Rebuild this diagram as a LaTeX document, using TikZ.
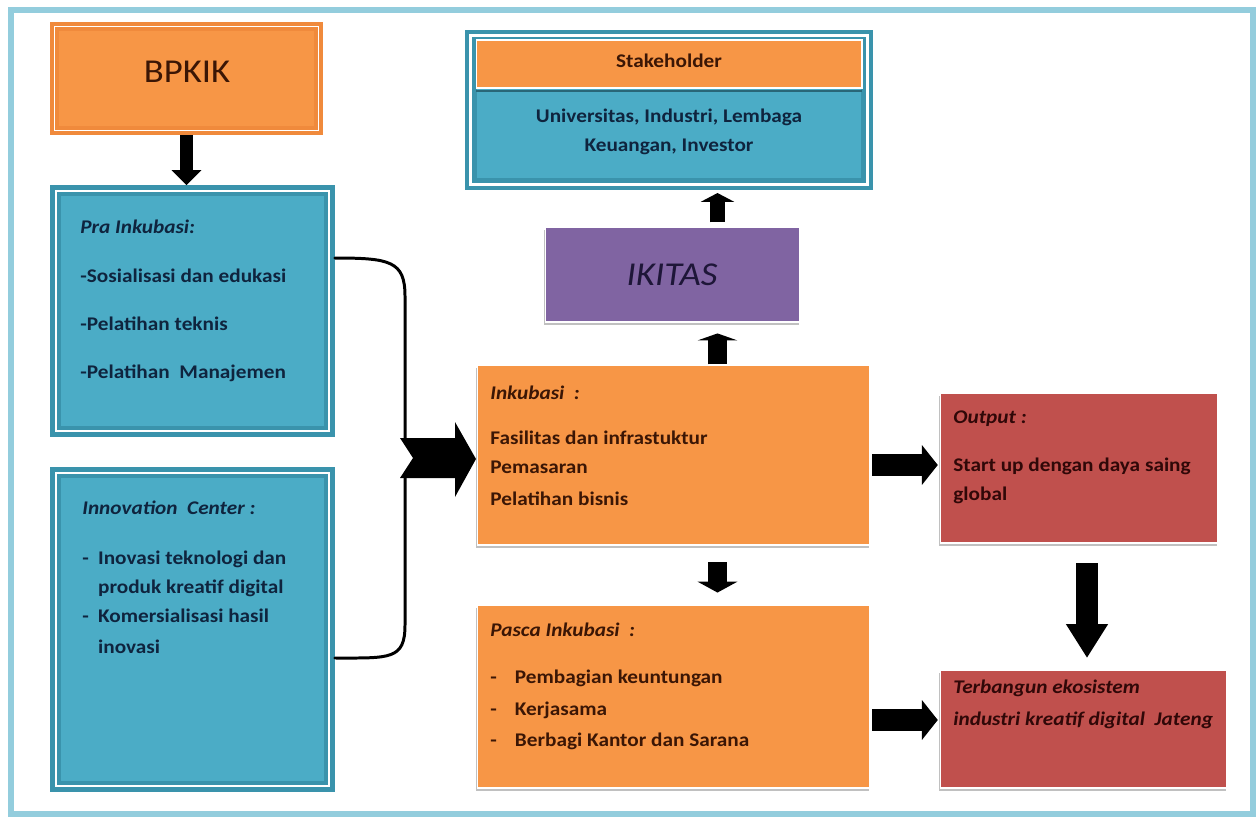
\documentclass[tikz,border=0pt]{standalone}
\usepackage{fontspec}
\setmainfont{Carlito}[FakeStretch=1.1]
\usetikzlibrary{arrows.meta,shadows}

\definecolor{frameblue}{HTML}{93CDDD}
\definecolor{boxorange}{HTML}{F79646}
\definecolor{edgeorange}{HTML}{F08A3C}
\definecolor{boxblue}{HTML}{4BACC6}
\definecolor{edgeblue}{HTML}{3A93AC}
\definecolor{boxpurple}{HTML}{8064A2}
\definecolor{boxred}{HTML}{C0504D}
\definecolor{navytext}{HTML}{0F243E}
\definecolor{browntext}{HTML}{3B1605}
\definecolor{redtext}{HTML}{300808}
\definecolor{purpletext}{HTML}{1E1638}

\tikzset{
  bluebox/.style={fill=boxblue, draw=edgeblue, double=white, line width=2.5pt,
    double distance=1.4pt, outer sep=3.2pt, inner sep=0pt},
  flatbox/.style={fill=#1, draw=white, line width=0.6pt, inner sep=0pt,
    drop shadow={shadow xshift=-0.8pt, shadow yshift=-1.6pt, fill=black!55, opacity=0.45}},
  txt/.style={font=\fontsize{11}{16.5}\selectfont\bfseries, align=left,
    inner sep=0pt, anchor=north west},
  blk/.style n args={3}{line width=#1, -{Triangle[width=#2,length=#3,line width=0pt]}},
  bracket/.style={line width=1.7pt, line cap=round}
}

\begin{document}
\begin{tikzpicture}[x=0.02cm, y=-0.02cm]
    \useasboundingbox (0,0) rectangle (1260,818);

    % Outer frame
    \draw[frameblue, line width=3.4pt] (11,10) rectangle (1253,814);

    % Left column
    \node[fill=boxorange, draw=edgeorange, double=white, line width=2pt, double distance=1pt,
          outer sep=2.5pt, inner sep=0pt, minimum width=5.28cm, minimum height=2.08cm]
          (bpkik) at (186.5,78.5) {};
    \node[bluebox, minimum width=5.47cm, minimum height=4.81cm] (pra) at (192.5,311) {};
    \node[bluebox, minimum width=5.47cm, minimum height=6.27cm] (inno) at (192.5,629.5) {};

    % Stakeholder block
    \node[fill=boxblue, draw=edgeblue, double=white, line width=2.5pt, double distance=1.6pt,
          outer sep=3.3pt, inner sep=0pt, minimum width=7.93cm, minimum height=2.97cm]
          (stake) at (669,110) {};
    \node[fill=boxorange, draw=white, line width=0.6pt, inner sep=0pt,
          minimum width=7.72cm, minimum height=0.96cm] (band) at (669,64) {};
    \draw[edgeblue!70!black, line width=0.8pt] (476,91) -- (862,91);

    % Middle and right column
    \node[flatbox=boxpurple, minimum width=5.10cm, minimum height=1.90cm] (ikitas) at (672.5,274.5) {};
    \node[flatbox=boxorange, minimum width=7.86cm, minimum height=3.60cm] (inku) at (673.5,455) {};
    \node[flatbox=boxorange, minimum width=7.86cm, minimum height=3.66cm] (pasca) at (673.5,696.5) {};
    \node[flatbox=boxred, minimum width=5.56cm, minimum height=3.00cm] (out) at (1079,468) {};
    \node[flatbox=boxred, minimum width=5.74cm, minimum height=2.36cm] (terb) at (1083.5,729) {};

    % Texts
    \node[font=\fontsize{19}{21}\selectfont, text=browntext] (bpkiktext) at (187,72) {BPKIK};
    \node[txt, text=navytext] (pratext) at (80,220)
        {\textit{Pra Inkubasi:}\\[11pt]
         -Sosialisasi dan edukasi\\[11pt]
         -Pelatihan teknis\\[11pt]
         -Pelatihan\ \ Manajemen};
    \node[txt, text=navytext] (innotext) at (82,501)
        {\textit{Innovation\ \ Center :}\\[11.5pt]
         \makebox[9pt][l]{-}Inovasi teknologi dan\\
         \hspace*{9pt}produk kreatif digital\\
         \makebox[9pt][l]{-}Komersialisasi hasil\\[1.5pt]
         \hspace*{9pt}inovasi};
    \node[font=\fontsize{11}{16.5}\selectfont\bfseries, text=browntext] (staketext) at (669,61) {Stakeholder};
    \node[font=\fontsize{11}{16.5}\selectfont\bfseries, text=navytext, align=center] (membertext) at (669,132)
        {Universitas, Industri, Lembaga\\ Keuangan, Investor};
    \node[font=\fontsize{19}{21}\selectfont\itshape, text=purpletext] (ikitastext) at (672,275) {IKITAS};
    \node[txt, text=browntext] (inkutext) at (490,386)
        {\textit{Inkubasi\ \ :}\\[9pt]
         Fasilitas dan infrastuktur\\
         Pemasaran\\[1.5pt]
         Pelatihan bisnis};
    \node[txt, text=browntext] (pascatext) at (490,623)
        {\textit{Pasca Inkubasi\ \ :}\\[10pt]
         \makebox[14pt][l]{-}Pembagian keuntungan\\[1.5pt]
         \makebox[14pt][l]{-}Kerjasama\\[1.5pt]
         \makebox[14pt][l]{-}Berbagi Kantor dan Sarana};
    \node[txt, text=redtext] (outtext) at (953,410)
        {\textit{Output :}\\[11pt]
         Start up dengan daya saing\\
         global};
    \node[txt, text=redtext, font=\fontsize{11}{18}\selectfont\bfseries\itshape] (terbtext) at (953,680)
        {Terbangun ekosistem\\
         industri kreatif digital\ \ Jateng};

    % Block arrows
    \draw[blk={7.4pt}{17pt}{8.5pt}] (bpkik.south) -- (bpkik.south |- pra.north);
    \draw[blk={9pt}{19pt}{5pt}, shorten <=2.3pt, shorten >=1.7pt]
        ([xshift=0.9cm]ikitas.north) -- ([xshift=0.9cm]ikitas.north |- stake.south);
    \draw[blk={11.3pt}{22.7pt}{4pt}, shorten >=6.2pt]
        ([xshift=0.88cm]inku.north) -- ([xshift=0.88cm]inku.north |- ikitas.south);
    \draw[blk={11.3pt}{22.7pt}{6.2pt}, shorten <=9.6pt, shorten >=6.8pt]
        ([xshift=0.88cm]inku.south) -- ([xshift=0.88cm]inku.south |- pasca.north);
    \draw[blk={12.5pt}{22.7pt}{9pt}, shorten <=1pt, shorten >=1pt]
        ([yshift=-0.2cm]inku.east) -- ([yshift=-0.2cm]inku.east -| out.west);
    \draw[blk={12.5pt}{22.7pt}{9pt}, shorten <=1pt, shorten >=1pt]
        ([yshift=-0.47cm]pasca.east) -- ([yshift=-0.47cm]pasca.east -| terb.west);
    \draw[blk={13pt}{24pt}{19pt}, shorten <=11.3pt, shorten >=6.8pt]
        ([xshift=0.16cm]out.south) -- ([xshift=0.16cm]out.south |- terb.north);

    % Bracket joining the two left boxes
    \coordinate (tailtop) at (405,440);
    \coordinate (tailbot) at (405,476);
    \draw[bracket] ([yshift=1.06cm]pra.east) .. controls +(55,0) and +(0,-35) .. (405,296) -- (tailtop);
    \draw[bracket] ([yshift=-0.57cm]inno.east) .. controls +(55,0) and +(0,35) .. (405,625) -- (tailbot);
    \fill (400,438) -- (455,438) -- (455,422) -- (476,459) -- (455,497) -- (455,478)
        -- (400,478) -- (413,458) -- cycle;
\end{tikzpicture}
\end{document}
